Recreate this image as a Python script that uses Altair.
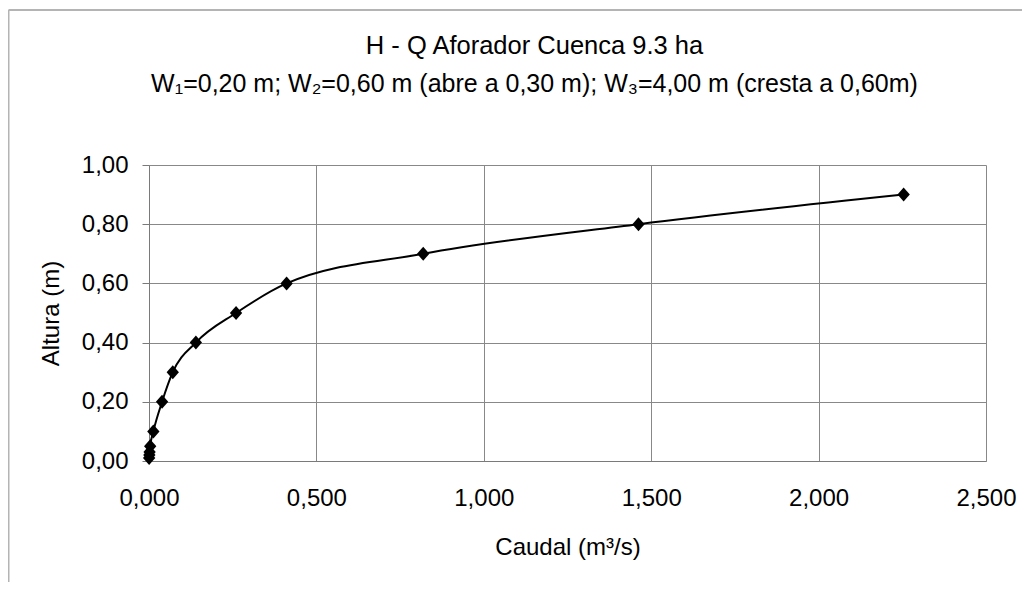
import altair as alt
import pandas as pd

# Data
caudal = [0.0004, 0.0010, 0.0018, 0.0035, 0.013, 0.039, 0.071, 0.140, 0.260, 0.411, 0.819, 1.462, 2.254]
altura = [0.01, 0.02, 0.03, 0.05, 0.10, 0.20, 0.30, 0.40, 0.50, 0.60, 0.70, 0.80, 0.90]
x_ticks = [0.0, 0.5, 1.0, 1.5, 2.0, 2.5]
y_ticks = [0.0, 0.2, 0.4, 0.6, 0.8, 1.0]

title_text = "H - Q Aforador Cuenca 9.3 ha"
subtitle_text = "W\u2081=0,20 m; W\u2082=0,60 m (abre a 0,30 m); W\u2083=4,00 m (cresta a 0,60m)"
x_title = "Caudal (m\u00b3/s)"
y_title = "Altura (m)"

df = pd.DataFrame({"Q": caudal, "H": altura})
frame_df = pd.DataFrame({"a": [0]})

FONT = "Liberation Sans"
GRID = "#888888"

x_enc = alt.X(
    "Q:Q",
    scale=alt.Scale(domain=[0, 2.5], nice=False, zero=True),
    axis=alt.Axis(
        values=x_ticks,
        labelExpr="replace(format(datum.value, '.3f'), '.', ',')",
        title=x_title,
        tickSize=0,
        labelPadding=25,
        titlePadding=25,
        labelFlush=False,
    ),
)
y_enc = alt.Y(
    "H:Q",
    scale=alt.Scale(domain=[0, 1], nice=False, zero=True),
    axis=alt.Axis(
        values=y_ticks,
        labelExpr="replace(format(datum.value, '.2f'), '.', ',')",
        title=y_title,
        tickSize=7,
        labelPadding=14,
        titlePadding=18,
        labelFlush=False,
    ),
)

base = alt.Chart(df)

line = base.mark_line(color="black", strokeWidth=2, interpolate="monotone").encode(x=x_enc, y=y_enc)
pts = base.mark_point(
    shape="M-0.88,0L0,-1L0.88,0L0,1Z", filled=True, color="black", size=196, opacity=1
).encode(x="Q:Q", y="H:Q")

frame_left = alt.Chart(frame_df).mark_rule(color="#b4b4b4", strokeWidth=2).encode(
    x=alt.value(-140.5), y=alt.value(-155), y2=alt.value(430)
)
frame_top = alt.Chart(frame_df).mark_rule(color="#b4b4b4", strokeWidth=2).encode(
    x=alt.value(-140.5), x2=alt.value(890), y=alt.value(-155)
)

chart = (
    alt.layer(frame_left, frame_top, line, pts)
    .properties(
        width=837,
        height=296,
        padding={"left": 141, "top": 157, "right": 36, "bottom": 121},
        autosize=alt.AutoSizeParams(type="none"),
        title=alt.TitleParams(
            text=title_text,
            subtitle=subtitle_text,
            font=FONT,
            subtitleFont=FONT,
            fontSize=25.5,
            subtitleFontSize=25,
            fontWeight="normal",
            color="black",
            subtitleColor="black",
            anchor="middle",
            dx=-33,
            offset=-88,
            subtitlePadding=13,
        ),
    )
    .configure_view(stroke=None)
    .configure_axis(
        labelFont=FONT,
        titleFont=FONT,
        labelFontSize=24,
        titleFontSize=24,
        titleFontWeight="normal",
        labelColor="black",
        titleColor="black",
        gridColor=GRID,
        gridOpacity=1,
        gridWidth=1,
        domainColor="#7a7a7a",
        domainWidth=1,
        tickColor="#7a7a7a",
    )
)

chart.save("out.html", embed_options={"renderer": "svg", "actions": False})
